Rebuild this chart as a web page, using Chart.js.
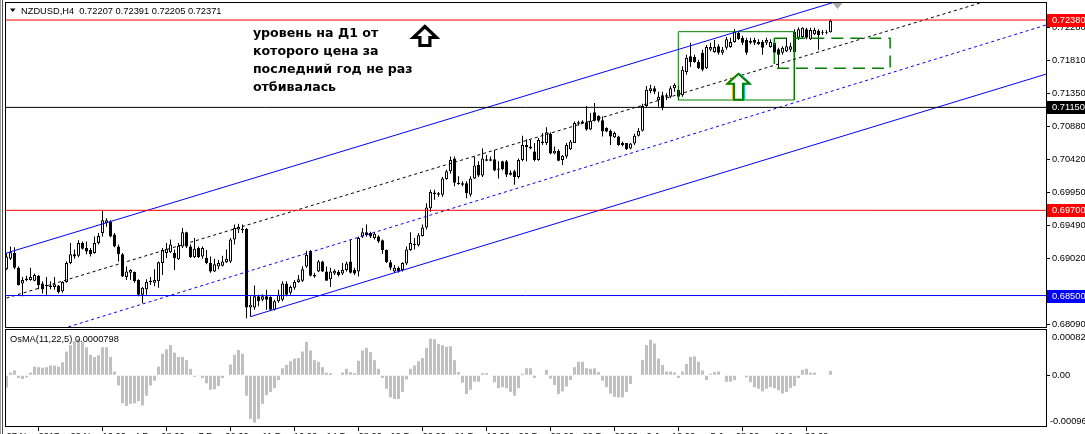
<!DOCTYPE html>
<html><head><meta charset="utf-8">
<script src="https://cdn.jsdelivr.net/npm/chart.js@4.4.1/dist/chart.umd.min.js"></script>
<style>
html,body{margin:0;padding:0;background:#fff;overflow:hidden;}
#wrap{position:relative;width:1085px;height:434px;overflow:hidden;}
canvas{position:absolute;left:0;}
#c1{top:0;} #c2{top:328px;}
</style></head><body>
<div id="wrap"><canvas id="c1" width="1085" height="328"></canvas><canvas id="c2" width="1085" height="106"></canvas></div>
<script>
// ---------- DATA ----------
const symbolTitle = "NZDUSD,H4  0.72207 0.72391 0.72205 0.72371";
const osmaTitle = "OsMA(11,22,5) 0.0000798";
const noteLines = ["уровень на Д1 от", "которого цена за", "последний год не раз", "отбивалась"];

const opens = [
0.6887,0.6902,0.6910,0.6889,0.6867,0.6874,0.6872,0.6871,0.6878,0.6867,
0.6865,0.6862,0.6862,0.6864,0.6856,0.6869,0.6896,0.6908,0.6906,0.6924,
0.6917,0.6914,0.6910,0.6924,0.6938,0.6952,0.6954,0.6936,0.6919,0.6908,
0.6876,0.6882,0.6883,0.6872,0.6851,0.6859,0.6869,0.6868,0.6870,0.6896,
0.6910,0.6911,0.6910,0.6901,0.6919,0.6939,0.6919,0.6904,0.6917,0.6905,
0.6903,0.6896,0.6884,0.6891,0.6892,0.6897,0.6898,0.6929,0.6943,0.6944,
0.6944,0.6833,0.6833,0.6849,0.6844,0.6849,0.6848,0.6830,0.6842,0.6844,
0.6867,0.6854,0.6861,0.6869,0.6871,0.6891,0.6913,0.6879,0.6884,0.6898,
0.6884,0.6873,0.6881,0.6883,0.6881,0.6886,0.6898,0.6886,0.6884,0.6933,
0.6939,0.6938,0.6931,0.6933,0.6928,0.6914,0.6897,0.6884,0.6889,0.6886,
0.6895,0.6914,0.6921,0.6921,0.6934,0.6946,0.6973,0.6993,0.6994,0.6992,
0.7014,0.7025,0.7043,0.7009,0.7008,0.7008,0.6992,0.7015,0.7034,0.7019,
0.7042,0.7040,0.7042,0.7027,0.7039,0.7039,0.7023,0.7025,0.7017,0.7041,
0.7062,0.7060,0.7053,0.7041,0.7067,0.7065,0.7078,0.7050,0.7054,0.7041,
0.7046,0.7056,0.7065,0.7094,0.7093,0.7094,0.7084,0.7108,0.7103,0.7097,
0.7086,0.7082,0.7073,0.7074,0.7065,0.7065,0.7057,0.7064,0.7075,0.7082,
0.7117,0.7138,0.7142,0.7125,0.7132,0.7130,0.7130,0.7142,0.7140,0.7132,
0.7165,0.7187,0.7186,0.7179,0.7192,0.7170,0.7196,0.7193,0.7201,0.7192,
0.7199,0.7200,0.7207,0.7220,0.7213,0.7210,0.7206,0.7210,0.7204,0.7207,
0.7206,0.7200,0.7206,0.7197,0.7192,0.7194,0.7196,0.7193,0.7213,0.7214,
0.7225,0.7211,0.7218,0.7223,0.7220,0.7220,0.72207];
const highs = [
0.6910,0.6919,0.6918,0.6891,0.6876,0.6878,0.6889,0.6881,0.6879,0.6870,
0.6876,0.6870,0.6876,0.6865,0.6870,0.6898,0.6924,0.6915,0.6928,0.6926,
0.6926,0.6917,0.6933,0.6938,0.6969,0.6959,0.6956,0.6938,0.6922,0.6910,
0.6891,0.6887,0.6884,0.6873,0.6862,0.6873,0.6876,0.6887,0.6898,0.6917,
0.6924,0.6929,0.6915,0.6924,0.6945,0.6940,0.6922,0.6931,0.6919,0.6919,
0.6914,0.6905,0.6902,0.6900,0.6906,0.6915,0.6931,0.6950,0.6951,0.6950,
0.6945,0.6849,0.6864,0.6851,0.6852,0.6858,0.6849,0.6844,0.6858,0.6870,
0.6870,0.6864,0.6872,0.6879,0.6891,0.6913,0.6914,0.6882,0.6900,0.6899,
0.6891,0.6889,0.6887,0.6886,0.6896,0.6898,0.6929,0.6889,0.6933,0.6945,
0.6950,0.6940,0.6940,0.6935,0.6929,0.6915,0.6900,0.6893,0.6891,0.6897,
0.6919,0.6939,0.6931,0.6938,0.6950,0.6980,0.6999,0.6999,0.6996,0.7017,
0.7027,0.7046,0.7046,0.7018,0.7011,0.7011,0.7018,0.7046,0.7039,0.7057,
0.7048,0.7046,0.7055,0.7039,0.7040,0.7041,0.7026,0.7027,0.7043,0.7075,
0.7070,0.7069,0.7065,0.7072,0.7079,0.7087,0.7080,0.7060,0.7056,0.7048,
0.7065,0.7069,0.7095,0.7096,0.7097,0.7117,0.7107,0.7121,0.7104,0.7102,
0.7087,0.7084,0.7081,0.7075,0.7067,0.7065,0.7065,0.7078,0.7086,0.7120,
0.7145,0.7147,0.7145,0.7137,0.7137,0.7135,0.7145,0.7149,0.7145,0.7173,
0.7189,0.7206,0.7189,0.7182,0.7196,0.7203,0.7206,0.7210,0.7204,0.7200,
0.7214,0.7213,0.7225,0.7223,0.7216,0.7213,0.7213,0.7213,0.7211,0.7210,
0.7213,0.7211,0.7211,0.7199,0.7201,0.7213,0.7206,0.7225,0.7228,0.7228,
0.7227,0.7227,0.7227,0.7225,0.7224,0.7224,0.72391];
const lows = [
0.6886,0.6900,0.6887,0.6864,0.6849,0.6870,0.6871,0.6870,0.6859,0.6853,
0.6851,0.6859,0.6858,0.6853,0.6854,0.6868,0.6894,0.6902,0.6904,0.6915,
0.6908,0.6905,0.6909,0.6922,0.6933,0.6947,0.6932,0.6918,0.6898,0.6876,
0.6872,0.6872,0.6868,0.6849,0.6839,0.6851,0.6865,0.6863,0.6861,0.6879,
0.6903,0.6910,0.6886,0.6900,0.6917,0.6917,0.6903,0.6903,0.6903,0.6902,
0.6894,0.6882,0.6883,0.6887,0.6891,0.6896,0.6896,0.6922,0.6938,0.6938,
0.6818,0.6820,0.6830,0.6835,0.6842,0.6830,0.6829,0.6829,0.6840,0.6842,
0.6849,0.6851,0.6858,0.6868,0.6869,0.6889,0.6877,0.6875,0.6883,0.6883,
0.6871,0.6862,0.6879,0.6877,0.6879,0.6884,0.6881,0.6879,0.6877,0.6931,
0.6933,0.6931,0.6929,0.6924,0.6909,0.6896,0.6886,0.6882,0.6882,0.6884,
0.6893,0.6913,0.6915,0.6919,0.6933,0.6943,0.6968,0.6985,0.6989,0.6989,
0.7013,0.7022,0.7004,0.7006,0.7004,0.6987,0.6989,0.7014,0.7017,0.7017,
0.7039,0.7039,0.7025,0.7015,0.7026,0.7017,0.7019,0.7006,0.7015,0.7039,
0.7039,0.7056,0.7039,0.7040,0.7062,0.7062,0.7049,0.7049,0.7039,0.7034,
0.7043,0.7055,0.7065,0.7089,0.7092,0.7082,0.7083,0.7095,0.7094,0.7074,
0.7080,0.7062,0.7072,0.7061,0.7060,0.7055,0.7056,0.7062,0.7074,0.7081,
0.7114,0.7135,0.7134,0.7116,0.7111,0.7125,0.7128,0.7137,0.7125,0.7130,
0.7161,0.7172,0.7178,0.7169,0.7166,0.7169,0.7194,0.7192,0.7189,0.7189,
0.7196,0.7199,0.7206,0.7210,0.7203,0.7189,0.7204,0.7203,0.7203,0.7189,
0.7203,0.7199,0.7190,0.7170,0.7189,0.7193,0.7193,0.7192,0.7210,0.7213,
0.7211,0.7210,0.7217,0.7196,0.7217,0.7218,0.72205];
const closes = [
0.6905,0.6911,0.6889,0.6865,0.6872,0.6872,0.6876,0.6879,0.6865,0.6859,
0.6863,0.6864,0.6866,0.6855,0.6869,0.6896,0.6908,0.6905,0.6924,0.6916,
0.6912,0.6908,0.6924,0.6934,0.6956,0.6956,0.6933,0.6919,0.6908,0.6877,
0.6884,0.6886,0.6870,0.6851,0.6861,0.6869,0.6871,0.6872,0.6897,0.6914,
0.6916,0.6922,0.6903,0.6920,0.6939,0.6919,0.6904,0.6916,0.6904,0.6917,
0.6896,0.6884,0.6894,0.6896,0.6898,0.6902,0.6929,0.6945,0.6947,0.6942,
0.6833,0.6837,0.6849,0.6842,0.6849,0.6844,0.6830,0.6842,0.6851,0.6867,
0.6851,0.6862,0.6869,0.6873,0.6887,0.6907,0.6878,0.6877,0.6898,0.6884,
0.6871,0.6884,0.6885,0.6879,0.6886,0.6895,0.6882,0.6881,0.6931,0.6939,
0.6935,0.6933,0.6937,0.6926,0.6914,0.6897,0.6889,0.6889,0.6884,0.6896,
0.6915,0.6924,0.6923,0.6935,0.6946,0.6974,0.6996,0.6995,0.6992,0.7015,
0.7025,0.7041,0.7009,0.7007,0.7006,0.6994,0.7015,0.7033,0.7019,0.7043,
0.7040,0.7042,0.7026,0.7029,0.7028,0.7020,0.7020,0.7017,0.7041,0.7062,
0.7059,0.7057,0.7041,0.7069,0.7065,0.7080,0.7050,0.7054,0.7040,0.7047,
0.7062,0.7067,0.7093,0.7092,0.7095,0.7084,0.7096,0.7096,0.7096,0.7081,
0.7081,0.7074,0.7079,0.7062,0.7062,0.7056,0.7064,0.7075,0.7082,0.7117,
0.7140,0.7142,0.7137,0.7130,0.7114,0.7132,0.7142,0.7147,0.7130,0.7168,
0.7185,0.7179,0.7179,0.7170,0.7168,0.7200,0.7200,0.7200,0.7192,0.7196,
0.7211,0.7207,0.7221,0.7211,0.7206,0.7192,0.7209,0.7206,0.7207,0.7199,
0.7210,0.7207,0.7192,0.7189,0.7199,0.7201,0.7201,0.7221,0.7225,0.7227,
0.7213,0.7224,0.7224,0.7217,0.7221,0.7221,0.72371];
// OsMA histogram, in units of 1e-5
const osma = [
-23,5,9,-5,-7,-4,5,16,15,14,
15,18,18,16,24,44,56,63,67,62,
52,38,34,37,52,52,34,7,-19,-52,
-57,-53,-52,-48,-56,-38,-19,-10,16,40,
48,56,42,34,34,28,12,-3,-1,-5,
-15,-27,-26,-20,-5,-1,20,38,47,40,
-38,-81,-88,-81,-53,-37,-31,-24,-9,13,
19,26,31,32,44,62,46,28,25,15,
5,4,1,-1,5,12,6,4,27,46,
51,43,28,12,-5,-25,-41,-44,-44,-31,
-8,12,18,26,32,51,68,67,58,56,
53,54,28,6,-14,-35,-27,-12,-12,4,
4,-1,-13,-24,-22,-24,-31,-38,-24,3,
13,13,-5,-1,0,10,-6,-18,-35,-30,
-21,-9,15,25,25,13,12,13,6,-10,
-22,-34,-40,-41,-41,-31,-16,-1,1,28,
56,66,59,31,19,7,7,5,-5,7,
21,34,35,25,9,-9,3,6,7,0,
-12,-12,-9,-1,1,-4,-13,-22,-25,-30,
-25,-22,-24,-28,-34,-31,-24,-20,-5,10,
12,5,5,1,1,-1,7.98];

const priceTicks = [0.72280,0.71810,0.71350,0.70880,0.70420,0.69950,0.69490,0.69020,0.68090];
const levelValues = [0.72380, 0.71150, 0.69700, 0.68500];
const osmaRange = [-0.000961, 0.000822];
const timeTickBars = [0,16,32,48,64,80,96,112,128,144,160,176,192];
const timeLabels = ["27 Nov 2017","29 Nov 16:00","4 Dec 08:00","7 Dec 00:00","11 Dec 16:00","14 Dec 08:00","19 Dec 00:00","21 Dec 16:00","26 Dec 08:00","29 Dec 00:00","2 Jan 16:00","5 Jan 08:00","10 Jan 00:00"];
// trend channel lines: [bar, price] end points
const upperChannel = [[0,0.69099],[230,0.73025]];
const midChannel   = [[0,0.68465],[250,0.72733]];
const lowMidChannel= [[14,0.68033],[259.875,0.72310]];
const lowerChannel = [[61,0.68203],[259.875,0.71618]];
// rectangles: [barFrom, barTo, priceTop, priceBottom]
const solidBox  = [167.95,196.95,0.72216,0.71254];
const dashedBox = [191.95,220.9,0.72123,0.71700];
// annotation anchors: [bar, price]
const noteAnchor = [61.6, 0.72137];
const blackArrowAnchor = [104.6, 0.72310];
const greenArrowAnchor = [183.0, 0.71638];

// ---------- STYLE / LAYOUT ----------
const X_MIN = -0.375, X_MAX = 259.875;
const levelColors = ['#ff0000','#000000','#ff0000','#0000ff'];
const SMALL = '9.3px "Liberation Sans", Arial, sans-serif';
const idx = closes.map((_, i) => i);

function lineSet(points, color, dash, width) {
  return {type:'line', data: points.map(p => ({x:p[0], y:p[1]})), borderColor: color, borderWidth: width || 1,
    borderDash: dash || [], pointRadius: 0, pointHoverRadius: 0, fill: false, tension: 0, order: 0};
}
function boxPoints(b) {
  return [[b[0],b[2]],[b[1],b[2]],[b[1],b[3]],[b[0],b[3]],[b[0],b[2]]];
}
function noPad(s) { s.paddingTop = 0; s.paddingBottom = 0; s.paddingLeft = 0; s.paddingRight = 0; }

const datasets = [];
levelValues.forEach((v, k) => datasets.push(lineSet([[X_MIN, v],[X_MAX, v]], levelColors[k])));
datasets.push(lineSet(upperChannel, '#0000ff'));
datasets.push(lineSet(lowerChannel, '#0000ff'));
datasets.push(lineSet(midChannel, '#000000', [3,3]));
datasets.push(lineSet(lowMidChannel, '#0000ff', [3,3]));
datasets.push(lineSet(boxPoints(solidBox), '#008000'));
datasets.push(lineSet(boxPoints(dashedBox), '#008000', [12,7], 1.5));
datasets.push({type:'bar', data: idx.map(i => ({x:i, y:[Math.min(opens[i],closes[i]), Math.max(opens[i],closes[i])]})),
  order: 5, grouped:false, barThickness:3, borderWidth:1, borderColor:'#000', borderSkipped:false, inflateAmount:0, minBarLength:1,
  backgroundColor: ctx => (closes[ctx.dataIndex] >= opens[ctx.dataIndex] ? '#ffffff' : '#000000')});
datasets.push({type:'bar', data: idx.map(i => ({x:i, y:[lows[i], highs[i]]})),
  order: 6, grouped:false, barThickness:1, borderWidth:0, inflateAmount:0, backgroundColor:'#000'});

function arrowPath(ctx, cx, top, headW, headH, stemW, height) {
  ctx.beginPath();
  ctx.moveTo(cx, top);
  ctx.lineTo(cx + headW/2, top + headH);
  ctx.lineTo(cx + stemW/2, top + headH);
  ctx.lineTo(cx + stemW/2, top + height);
  ctx.lineTo(cx - stemW/2, top + height);
  ctx.lineTo(cx - stemW/2, top + headH);
  ctx.lineTo(cx - headW/2, top + headH);
  ctx.closePath();
}

const mainDecor = {
  id: 'mainDecor',
  afterDraw(chart) {
    const {ctx, chartArea: a, scales: {x, y}} = chart;
    ctx.save();
    ctx.fillStyle = '#a0a0a0'; ctx.fillRect(0, 0, 1, chart.height);
    ctx.fillStyle = '#505050'; ctx.fillRect(2, 0, 1, chart.height);
    ctx.strokeStyle = '#000'; ctx.lineWidth = 1;
    ctx.strokeRect(a.left + 0.5, a.top - 0.5, a.right - a.left, a.bottom - a.top);
    ctx.fillStyle = '#000';
    ctx.beginPath(); ctx.moveTo(10, 8.5); ctx.lineTo(15.5, 8.5); ctx.lineTo(12.75, 12); ctx.closePath(); ctx.fill();
    ctx.font = SMALL; ctx.textBaseline = 'middle'; ctx.textAlign = 'left';
    ctx.fillText(symbolTitle, 21, 11);
    ctx.fillStyle = '#a8a8a8';
    const sx = x.getPixelForValue(207.75);
    ctx.beginPath(); ctx.moveTo(sx - 5, a.top); ctx.lineTo(sx + 5, a.top); ctx.lineTo(sx, a.top + 6); ctx.closePath(); ctx.fill();
    ctx.fillStyle = '#000';
    ctx.font = 'bold 12.6px "DejaVu Sans", sans-serif';
    ctx.textBaseline = 'alphabetic';
    const nx = x.getPixelForValue(noteAnchor[0]), ny = y.getPixelForValue(noteAnchor[1]);
    noteLines.forEach((t, k) => ctx.fillText(t, nx, ny + k * 18));
    const bx = x.getPixelForValue(blackArrowAnchor[0]), by = y.getPixelForValue(blackArrowAnchor[1]);
    arrowPath(ctx, bx, by + 1.5, 23, 11, 10, 19);
    ctx.fillStyle = '#fff'; ctx.fill();
    ctx.lineWidth = 3.2; ctx.lineJoin = 'miter'; ctx.strokeStyle = '#000'; ctx.stroke();
    const gx = x.getPixelForValue(greenArrowAnchor[0]), gy = y.getPixelForValue(greenArrowAnchor[1]);
    ctx.lineWidth = 1;
    arrowPath(ctx, gx - 1.5, gy + 1, 22, 10, 9, 26); ctx.strokeStyle = '#f0c000'; ctx.stroke();
    arrowPath(ctx, gx + 1.5, gy + 1, 22, 10, 9, 26); ctx.strokeStyle = '#00c8c8'; ctx.stroke();
    arrowPath(ctx, gx, gy + 1, 22, 10, 9, 26);
    ctx.fillStyle = '#fff'; ctx.fill();
    ctx.lineWidth = 2; ctx.strokeStyle = '#008000'; ctx.stroke();
    ctx.font = SMALL; ctx.textBaseline = 'middle';
    levelValues.forEach((v, k) => {
      const py = y.getPixelForValue(v);
      ctx.fillStyle = levelColors[k];
      ctx.fillRect(1047, Math.round(py) - 6, 38, 13);
      ctx.fillStyle = '#fff';
      ctx.fillText(v.toFixed(5), 1052, Math.round(py) + 0.5);
    });
    ctx.restore();
  }
};

Chart.defaults.font.family = '"Liberation Sans", Arial, sans-serif';

new Chart(document.getElementById('c1'), {
  type: 'bar',
  data: { datasets },
  options: {
    responsive: false, animation: false, devicePixelRatio: 1, events: [],
    layout: { padding: { left: 5, top: 3, right: 0, bottom: 0 } },
    plugins: { legend: { display: false }, tooltip: { enabled: false } },
    scales: {
      x: { type: 'linear', min: X_MIN, max: X_MAX, offset: false, display: false },
      y: { type: 'linear', position: 'right', min: 0.68043, max: 0.72620,
        afterFit: s => { s.width = 39; noPad(s); },
        afterBuildTicks: s => { s.ticks = priceTicks.map(v => ({ value: v })); },
        ticks: { autoSkip: false, padding: 2, color: '#000', font: { size: 9.3 }, callback: v => Number(v).toFixed(5) },
        grid: { drawOnChartArea: false, drawTicks: true, tickLength: 4, color: '#000', lineWidth: 1 },
        border: { display: false } }
    }
  },
  plugins: [mainDecor]
});

const subDecor = {
  id: 'subDecor',
  afterDraw(chart) {
    const {ctx, chartArea: a, scales: {y}} = chart;
    ctx.save();
    ctx.fillStyle = '#a0a0a0'; ctx.fillRect(0, 0, 1, chart.height);
    ctx.fillStyle = '#505050'; ctx.fillRect(2, 0, 1, chart.height);
    ctx.strokeStyle = '#000'; ctx.lineWidth = 1;
    ctx.strokeRect(a.left + 0.5, a.top - 1.5, a.right - a.left, a.bottom - a.top + 1);
    ctx.fillStyle = '#000'; ctx.font = SMALL; ctx.textBaseline = 'middle'; ctx.textAlign = 'left';
    ctx.fillText(osmaTitle, 10, 11);
    ctx.fillText(osmaRange[1].toFixed(6), 1052, y.getPixelForValue(osmaRange[1]) + 6);
    ctx.fillText(osmaRange[0].toFixed(6), 1050, y.getPixelForValue(osmaRange[0]) - 6);
    ctx.restore();
  }
};

new Chart(document.getElementById('c2'), {
  type: 'bar',
  data: { datasets: [{ data: idx.map(i => ({ x: i, y: osma[i] * 1e-5 })), backgroundColor: '#c0c0c0',
    barThickness: 3, grouped: false, borderWidth: 0, inflateAmount: 0 }] },
  options: {
    responsive: false, animation: false, devicePixelRatio: 1, events: [],
    layout: { padding: { left: 5, top: 3, right: 0, bottom: 0 } },
    plugins: { legend: { display: false }, tooltip: { enabled: false } },
    scales: {
      x: { type: 'linear', min: X_MIN, max: X_MAX, offset: false, position: 'bottom',
        afterFit: s => { s.height = 7; noPad(s); },
        afterBuildTicks: s => { s.ticks = timeTickBars.map(v => ({ value: v })); },
        ticks: { autoSkip: false, maxRotation: 0, minRotation: 0, align: 'start', padding: 0, color: '#000',
          font: { size: 9.3 }, callback: (v, i) => timeLabels[i] },
        grid: { drawOnChartArea: false, tickLength: 4, color: '#000' }, border: { display: false } },
      y: { type: 'linear', position: 'right', min: osmaRange[0], max: osmaRange[1],
        afterFit: s => { s.width = 39; noPad(s); },
        afterBuildTicks: s => { s.ticks = [{ value: 0 }]; },
        ticks: { autoSkip: false, padding: 2, color: '#000', font: { size: 9.3 }, callback: () => '0.00' },
        grid: { drawOnChartArea: false, tickLength: 4, color: '#000' }, border: { display: false } }
    }
  },
  plugins: [subDecor]
});
</script>
</body></html>
